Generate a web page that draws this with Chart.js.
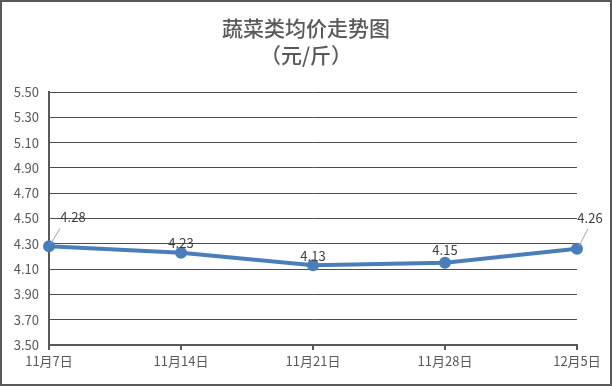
<!DOCTYPE html>
<html>
<head>
<meta charset="utf-8">
<script src="https://cdn.jsdelivr.net/npm/chart.js@4/dist/chart.umd.min.js"></script>
<style>
  html, body { margin: 0; padding: 0; background: #fff; }
  #wrap { width: 612px; height: 386px; position: relative; }
</style>
</head>
<body>
<div id="wrap"><canvas id="chart" width="612" height="386"></canvas></div>
<script>
// ---- data ----
const dates = ['11月7日', '11月14日', '11月21日', '11月28日', '12月5日'];
const prices = [4.28, 4.23, 4.13, 4.15, 4.26];
const yTicks = [3.5, 3.7, 3.9, 4.1, 4.3, 4.5, 4.7, 4.9, 5.1, 5.3, 5.5];
const titleLines = ['蔬菜类均价走势图', '（元/斤）'];

const cjk = '"Noto Sans CJK SC", "Noto Sans", sans-serif';
const textGray = '#595959';

// label offsets relative to each point: [dx, dy, leader?]
const labelPos = [[24, -29, true], [0, -10, false], [0, -9, false], [0, -13, false], [13, -31, true]];

const frame = {
  id: 'frame',
  beforeDraw(chart) {
    const ctx = chart.ctx;
    ctx.save();
    ctx.fillStyle = '#fff';
    ctx.fillRect(0, 0, chart.width, chart.height);
    ctx.fillStyle = textGray;
    ctx.textAlign = 'center';
    ctx.textBaseline = 'middle';
    ctx.font = '500 21px ' + cjk;
    ctx.fillText(titleLines[0], 306, 28);
    ctx.fillText(titleLines[1], 306, 55);
    ctx.restore();
  },
  afterDraw(chart) {
    const ctx = chart.ctx;
    ctx.save();
    ctx.strokeStyle = '#595959';
    ctx.lineWidth = 2;
    ctx.strokeRect(1, 1, chart.width - 2, chart.height - 2);
    // data labels
    const meta = chart.getDatasetMeta(0);
    ctx.font = '13px ' + cjk;
    ctx.textAlign = 'center';
    ctx.textBaseline = 'middle';
    meta.data.forEach((pt, i) => {
      const [dx, dy, leader] = labelPos[i];
      const lx = pt.x + dx, ly = pt.y + dy;
      if (leader) {
        ctx.strokeStyle = '#a6a6a6';
        ctx.lineWidth = 1;
        ctx.beginPath();
        const sx = dx > 0 ? pt.x + 11 : pt.x + 9;
        ctx.moveTo(pt.x + 2 * Math.sign(dx), pt.y - 3);
        ctx.lineTo(sx, ly + 11);
        ctx.stroke();
      }
      ctx.fillStyle = '#404040';
      ctx.fillText(prices[i].toFixed(2), lx, ly);
    });
    ctx.restore();
  }
};

new Chart(document.getElementById('chart'), {
  type: 'line',
  data: {
    labels: dates,
    datasets: [{
      data: prices,
      borderColor: '#4a7ebb',
      backgroundColor: '#4a7ebb',
      borderWidth: 4,
      pointRadius: 4,
      pointBackgroundColor: '#4a7ebb',
      pointBorderColor: '#4a7ebb',
      tension: 0
    }]
  },
  options: {
    responsive: false,
    animation: false,
    layout: { padding: { top: 92, right: 35, left: 0, bottom: 0 } },
    plugins: { legend: { display: false }, title: { display: false }, tooltip: { enabled: false } },
    scales: {
      x: {
        offset: false,
        grid: { drawOnChartArea: false, drawTicks: true, tickLength: 5, color: '#595959', lineWidth: 2 },
        border: { color: '#595959', width: 2 },
        ticks: { color: textGray, font: { family: cjk, size: 13 }, padding: 3, maxRotation: 0, autoSkip: false },
        afterFit(s) { s.height = 41; }
      },
      y: {
        min: 3.5,
        max: 5.5,
        afterBuildTicks(s) { s.ticks = yTicks.map(v => ({ value: v })); },
        grid: { color: '#4d4d4d', lineWidth: 1, drawTicks: false },
        border: { color: '#595959', width: 2 },
        ticks: { color: textGray, font: { family: cjk, size: 13 }, padding: 10, callback: v => Number(v).toFixed(2) },
        afterFit(s) { s.width = 49; }
      }
    }
  },
  plugins: [frame]
});
</script>
</body>
</html>
